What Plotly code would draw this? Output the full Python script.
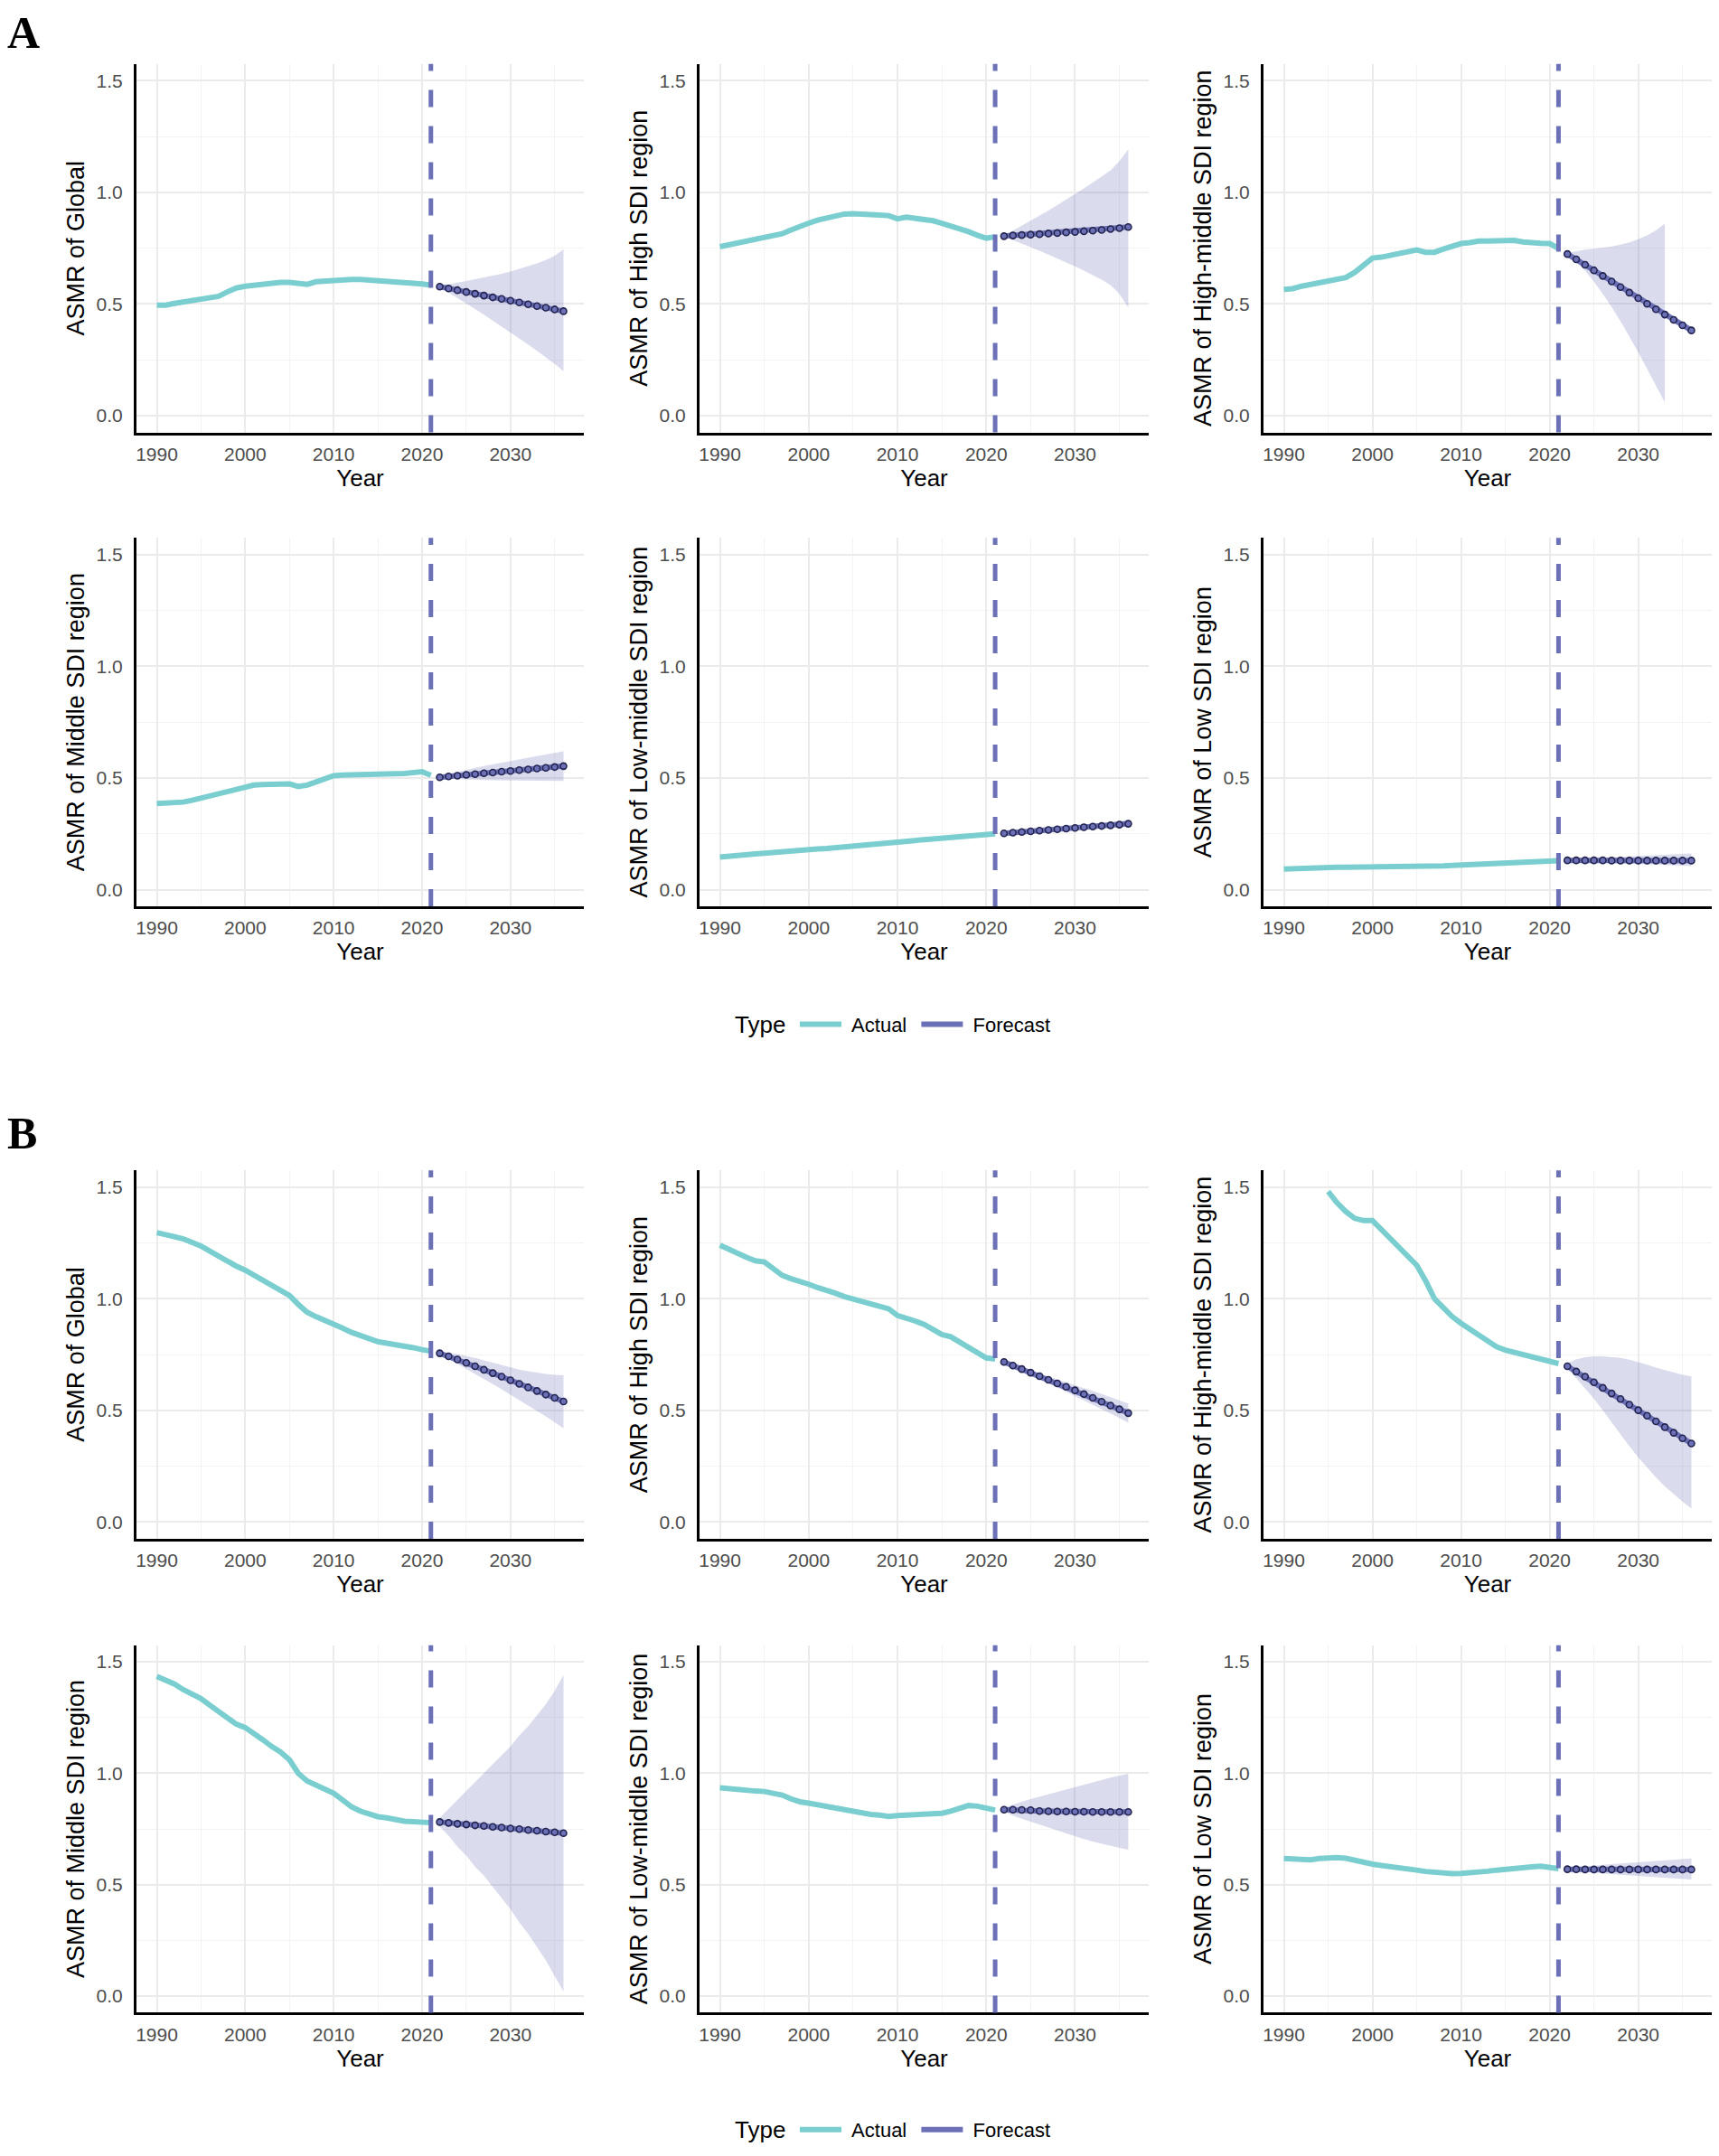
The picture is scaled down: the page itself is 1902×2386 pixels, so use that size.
import plotly.graph_objects as go

# years
actual_years = list(range(1990, 2022))
forecast_years = list(range(2022, 2037))
forecast_start = 2021

x_tick_vals = [1990, 2000, 2010, 2020, 2030]
x_tick_labels = ['1990', '2000', '2010', '2020', '2030']
x_minor_vals = [1995, 2005, 2015, 2025, 2035]
y_tick_vals = [0, 0.5, 1.0, 1.5]
y_tick_labels = ['0.0', '0.5', '1.0', '1.5']
y_minor_vals = [0.25, 0.75, 1.25]

region_titles = ['ASMR of Global', 'ASMR of High SDI region', 'ASMR of High-middle SDI region',
                 'ASMR of Middle SDI region', 'ASMR of Low-middle SDI region', 'ASMR of Low SDI region']

# ---------------- Panel A ----------------
a_global = [0.495, 0.495, 0.503, 0.510, 0.515, 0.520, 0.525, 0.535, 0.555, 0.572, 0.580, 0.585,
            0.590, 0.595, 0.597, 0.597, 0.590, 0.588, 0.600, 0.604, 0.604, 0.608, 0.610, 0.610,
            0.608, 0.604, 0.603, 0.600, 0.595, 0.593, 0.590, 0.585]
a_global_fc = [0.578, 0.570, 0.562, 0.554, 0.546, 0.538, 0.530, 0.523, 0.515, 0.507, 0.499, 0.491, 0.484, 0.476, 0.468]
a_global_hi = [0.580, 0.588, 0.594, 0.601, 0.609, 0.617, 0.626, 0.636, 0.646, 0.657, 0.669, 0.682, 0.697, 0.716, 0.745]
a_global_lo = [0.576, 0.552, 0.528, 0.503, 0.478, 0.452, 0.426, 0.400, 0.373, 0.346, 0.319, 0.291, 0.262, 0.232, 0.200]

a_high = [0.757, 0.766, 0.775, 0.784, 0.792, 0.800, 0.808, 0.815, 0.832, 0.849, 0.862, 0.876,
          0.885, 0.895, 0.903, 0.905, 0.905, 0.899, 0.899, 0.896, 0.882, 0.889, 0.885, 0.880,
          0.873, 0.862, 0.851, 0.839, 0.824, 0.808, 0.795, 0.801]
a_high_fc = [0.804, 0.807, 0.809, 0.811, 0.813, 0.816, 0.818, 0.821, 0.823, 0.826, 0.829, 0.832, 0.836, 0.840, 0.845]
a_high_hi = [0.806, 0.828, 0.850, 0.873, 0.896, 0.919, 0.943, 0.967, 0.992, 1.018, 1.044, 1.071, 1.099, 1.140, 1.193]
a_high_lo = [0.802, 0.787, 0.771, 0.755, 0.739, 0.722, 0.705, 0.687, 0.669, 0.650, 0.630, 0.609, 0.585, 0.545, 0.485]

a_hmid = [0.566, 0.569, 0.580, 0.587, 0.593, 0.602, 0.609, 0.619, 0.642, 0.677, 0.706, 0.710,
          0.717, 0.726, 0.734, 0.742, 0.732, 0.732, 0.746, 0.760, 0.771, 0.775, 0.782, 0.782,
          0.782, 0.786, 0.785, 0.778, 0.772, 0.772, 0.771, 0.749]
a_hmid_fc = [0.724, 0.700, 0.676, 0.651, 0.626, 0.601, 0.576, 0.551, 0.526, 0.501, 0.477, 0.453, 0.429, 0.405, 0.382]
a_hmid_hi = [0.730, 0.738, 0.744, 0.748, 0.752, 0.758, 0.766, 0.776, 0.790, 0.807, 0.830, 0.860]
a_hmid_lo = [0.718, 0.688, 0.650, 0.600, 0.545, 0.487, 0.423, 0.355, 0.285, 0.210, 0.135, 0.060]

a_mid = [0.385, 0.387, 0.388, 0.392, 0.400, 0.410, 0.420, 0.430, 0.440, 0.452, 0.463, 0.468,
         0.470, 0.470, 0.472, 0.473, 0.462, 0.468, 0.482, 0.497, 0.510, 0.513, 0.513, 0.514,
         0.515, 0.516, 0.518, 0.519, 0.520, 0.522, 0.528, 0.512]
a_mid_fc = [0.503, 0.507, 0.510, 0.514, 0.517, 0.521, 0.524, 0.528, 0.531, 0.535, 0.538, 0.542, 0.545, 0.549, 0.553]
a_mid_hi = [0.508, 0.518, 0.527, 0.536, 0.545, 0.553, 0.561, 0.569, 0.576, 0.584, 0.591, 0.598, 0.605, 0.612, 0.619]
a_mid_lo = [0.498, 0.496, 0.494, 0.493, 0.492, 0.491, 0.490, 0.490, 0.489, 0.489, 0.488, 0.488, 0.487, 0.487, 0.487]

a_lmid = [0.146, 0.148, 0.152, 0.156, 0.160, 0.163, 0.167, 0.171, 0.174, 0.177, 0.180, 0.182,
          0.184, 0.187, 0.190, 0.193, 0.197, 0.202, 0.206, 0.209, 0.213, 0.216, 0.220, 0.224,
          0.228, 0.232, 0.236, 0.239, 0.242, 0.246, 0.249, 0.250]
a_lmid_fc = [0.252, 0.255, 0.258, 0.261, 0.264, 0.267, 0.270, 0.273, 0.276, 0.279, 0.282, 0.285, 0.288, 0.291, 0.295]
a_lmid_hi = [0.254, 0.258, 0.262, 0.266, 0.270, 0.274, 0.278, 0.282, 0.286, 0.290, 0.294, 0.298, 0.302, 0.306, 0.310]
a_lmid_lo = [0.250, 0.252, 0.254, 0.256, 0.258, 0.260, 0.262, 0.264, 0.266, 0.268, 0.270, 0.272, 0.274, 0.276, 0.280]

a_low = [0.092, 0.094, 0.096, 0.097, 0.098, 0.099, 0.100, 0.100, 0.100, 0.100, 0.100, 0.101,
         0.101, 0.102, 0.102, 0.103, 0.104, 0.105, 0.106, 0.108, 0.110, 0.111, 0.113, 0.115,
         0.118, 0.120, 0.122, 0.124, 0.125, 0.126, 0.128, 0.130]
a_low_fc = [0.131, 0.131, 0.131, 0.131, 0.131, 0.130, 0.130, 0.130, 0.130, 0.130, 0.130, 0.130, 0.130, 0.130, 0.130]
a_low_hi = [0.134, 0.137, 0.139, 0.141, 0.143, 0.145, 0.147, 0.149, 0.150, 0.152, 0.154, 0.156, 0.158, 0.160, 0.162]
a_low_lo = [0.128, 0.126, 0.124, 0.122, 0.121, 0.119, 0.117, 0.116, 0.114, 0.113, 0.111, 0.110, 0.108, 0.107, 0.105]

# ---------------- Panel B ----------------
b_global = [1.296, 1.289, 1.278, 1.268, 1.253, 1.236, 1.213, 1.190, 1.165, 1.146, 1.128, 1.105,
            1.083, 1.063, 1.041, 1.015, 0.975, 0.940, 0.920, 0.904, 0.890, 0.869, 0.850, 0.835,
            0.822, 0.808, 0.801, 0.796, 0.789, 0.781, 0.772, 0.765]
b_global_fc = [0.756, 0.742, 0.728, 0.713, 0.698, 0.682, 0.667, 0.651, 0.635, 0.619, 0.603, 0.587, 0.571, 0.556, 0.540]
b_global_hi = [0.758, 0.757, 0.752, 0.745, 0.735, 0.724, 0.713, 0.702, 0.692, 0.683, 0.675, 0.668, 0.663, 0.659, 0.657]
b_global_lo = [0.753, 0.731, 0.709, 0.687, 0.664, 0.641, 0.618, 0.595, 0.571, 0.547, 0.523, 0.498, 0.473, 0.447, 0.420]

b_high = [1.240, 1.220, 1.200, 1.185, 1.170, 1.165, 1.135, 1.105, 1.090, 1.080, 1.065, 1.050,
          1.040, 1.025, 1.010, 1.000, 0.990, 0.980, 0.970, 0.955, 0.925, 0.915, 0.900, 0.885,
          0.865, 0.840, 0.830, 0.805, 0.780, 0.755, 0.735, 0.730]
b_high_fc = [0.717, 0.701, 0.685, 0.669, 0.653, 0.637, 0.621, 0.606, 0.590, 0.573, 0.556, 0.539, 0.522, 0.505, 0.488]
b_high_hi = [0.719, 0.705, 0.691, 0.678, 0.665, 0.652, 0.639, 0.627, 0.614, 0.600, 0.587, 0.573, 0.559, 0.545, 0.531]
b_high_lo = [0.715, 0.697, 0.679, 0.660, 0.641, 0.622, 0.603, 0.584, 0.565, 0.546, 0.526, 0.506, 0.486, 0.466, 0.445]

b_hmid = [None, None, None, None, None, 1.480, 1.430, 1.390, 1.360, 1.350, 1.350, 1.310,
          1.270, 1.230, 1.190, 1.150, 1.080, 1.000, 0.960, 0.920, 0.890, 0.865, 0.840, 0.810,
          0.785, 0.770, 0.760, 0.750, 0.740, 0.730, 0.720, 0.710]
b_hmid_fc = [0.698, 0.674, 0.651, 0.626, 0.601, 0.576, 0.551, 0.526, 0.501, 0.476, 0.451, 0.425, 0.400, 0.375, 0.352]
b_hmid_hi = [0.712, 0.728, 0.738, 0.742, 0.742, 0.740, 0.735, 0.727, 0.717, 0.705, 0.692, 0.680, 0.669, 0.659, 0.652]
b_hmid_lo = [0.690, 0.645, 0.600, 0.552, 0.500, 0.445, 0.390, 0.340, 0.290, 0.245, 0.200, 0.160, 0.125, 0.092, 0.060]

b_mid = [1.435, 1.420, 1.400, 1.375, 1.355, 1.335, 1.305, 1.275, 1.245, 1.220, 1.205, 1.180,
         1.150, 1.120, 1.095, 1.060, 1.000, 0.965, 0.945, 0.925, 0.910, 0.880, 0.850, 0.830,
         0.815, 0.805, 0.800, 0.790, 0.785, 0.783, 0.780, 0.778]
b_mid_fc = [0.781, 0.777, 0.773, 0.770, 0.766, 0.763, 0.759, 0.756, 0.752, 0.749, 0.745, 0.742, 0.738, 0.735, 0.731]
b_mid_hi = [0.800, 0.840, 0.880, 0.920, 0.960, 1.000, 1.040, 1.080, 1.120, 1.170, 1.210, 1.260, 1.310, 1.370, 1.440]
b_mid_lo = [0.760, 0.720, 0.670, 0.630, 0.580, 0.540, 0.490, 0.440, 0.390, 0.330, 0.280, 0.220, 0.160, 0.090, 0.020]

b_lmid = [0.935, 0.930, 0.925, 0.922, 0.920, 0.918, 0.912, 0.902, 0.885, 0.872, 0.866, 0.858,
          0.850, 0.842, 0.835, 0.828, 0.820, 0.815, 0.812, 0.806, 0.810, 0.812, 0.810, 0.812,
          0.815, 0.820, 0.830, 0.845, 0.855, 0.852, 0.842, 0.835]
b_lmid_fc = [0.836, 0.836, 0.835, 0.834, 0.830, 0.829, 0.828, 0.828, 0.827, 0.827, 0.826, 0.826, 0.826, 0.826, 0.826]
b_lmid_hi = [0.845, 0.860, 0.872, 0.884, 0.895, 0.906, 0.917, 0.928, 0.939, 0.950, 0.960, 0.970, 0.980, 0.989, 0.998]
b_lmid_lo = [0.828, 0.810, 0.796, 0.783, 0.768, 0.754, 0.741, 0.728, 0.716, 0.704, 0.693, 0.683, 0.673, 0.665, 0.657]

b_low = [0.617, 0.613, 0.610, 0.611, 0.617, 0.622, 0.621, 0.618, 0.608, 0.598, 0.592, 0.586,
         0.582, 0.578, 0.572, 0.565, 0.559, 0.554, 0.551, 0.549, 0.550, 0.552, 0.555, 0.560,
         0.565, 0.570, 0.574, 0.578, 0.580, 0.583, 0.577, 0.572]
b_low_fc = [0.569, 0.569, 0.568, 0.568, 0.568, 0.568, 0.568, 0.568, 0.568, 0.568, 0.568, 0.568, 0.568, 0.568, 0.568]
b_low_hi = [0.572, 0.577, 0.581, 0.585, 0.589, 0.592, 0.595, 0.598, 0.601, 0.604, 0.607, 0.609, 0.612, 0.614, 0.617]
b_low_lo = [0.566, 0.561, 0.557, 0.553, 0.550, 0.547, 0.544, 0.541, 0.538, 0.535, 0.532, 0.530, 0.527, 0.525, 0.523]

panels = [
    (a_global, a_global_fc, a_global_hi, a_global_lo),
    (a_high, a_high_fc, a_high_hi, a_high_lo),
    (a_hmid, a_hmid_fc, a_hmid_hi, a_hmid_lo),
    (a_mid, a_mid_fc, a_mid_hi, a_mid_lo),
    (a_lmid, a_lmid_fc, a_lmid_hi, a_lmid_lo),
    (a_low, a_low_fc, a_low_hi, a_low_lo),
    (b_global, b_global_fc, b_global_hi, b_global_lo),
    (b_high, b_high_fc, b_high_hi, b_high_lo),
    (b_hmid, b_hmid_fc, b_hmid_hi, b_hmid_lo),
    (b_mid, b_mid_fc, b_mid_hi, b_mid_lo),
    (b_lmid, b_lmid_fc, b_lmid_hi, b_lmid_lo),
    (b_low, b_low_fc, b_low_hi, b_low_lo),
]

# page has an 8px body margin, so the figure is shrunk and positions shifted
PAGE_MARGIN = 8
W, H = 1902 - 2 * PAGE_MARGIN, 2386 - 2 * PAGE_MARGIN


def px_x(p):
    return (p - PAGE_MARGIN) / W


def px_y(p):
    return 1 - (p - PAGE_MARGIN) / H


col_px = [(151, 646), (774, 1271), (1398, 1894)]
row_px = [(71, 480), (597, 1006), (1299, 1708), (1826, 2234)]

actual_color = '#7ACECF'
forecast_color = '#6B70B7'
ribbon_color = 'rgba(107,112,183,0.25)'
marker_edge = '#23244F'

fig = go.Figure()
layout_axes = {}
shapes = []

for i, (act, fc, hi, lo) in enumerate(panels):
    row, col = i // 3, i % 3
    n = '' if i == 0 else str(i + 1)
    xr, yr = 'x' + n, 'y' + n
    legend_name = 'legend' if i < 6 else 'legend2'
    first = (i % 6 == 0)
    ci_x = forecast_years[:len(hi)]

    # 95% band
    fig.add_trace(go.Scatter(x=ci_x, y=hi, mode='lines', line=dict(width=0, color=ribbon_color),
                             xaxis=xr, yaxis=yr, showlegend=False, hoverinfo='skip'))
    fig.add_trace(go.Scatter(x=ci_x, y=lo, mode='lines', line=dict(width=0, color=ribbon_color),
                             fill='tonexty', fillcolor=ribbon_color,
                             xaxis=xr, yaxis=yr, showlegend=False, hoverinfo='skip'))
    fig.add_trace(go.Scatter(x=actual_years, y=act, mode='lines', name='\u00a0Actual\u00a0',
                             line=dict(color=actual_color, width=6),
                             xaxis=xr, yaxis=yr, showlegend=first, legend=legend_name))
    fig.add_trace(go.Scatter(x=forecast_years, y=fc, mode='lines', name='\u00a0Forecast',
                             line=dict(color=forecast_color, width=6),
                             xaxis=xr, yaxis=yr, showlegend=first, legend=legend_name))
    fig.add_trace(go.Scatter(x=forecast_years, y=fc, mode='markers',
                             marker=dict(symbol='circle', size=7, color=forecast_color,
                                         line=dict(color=marker_edge, width=1.6)),
                             xaxis=xr, yaxis=yr, showlegend=False))

    shapes.append(dict(type='line', xref=xr, yref=yr + ' domain', x0=forecast_start, x1=forecast_start,
                       y0=0, y1=1, line=dict(color=forecast_color, width=5, dash='19px,21px')))

    x0, x1 = col_px[col]
    y0, y1 = row_px[row]
    layout_axes['xaxis' + n] = dict(
        domain=[px_x(x0), px_x(x1)], anchor=yr, range=[1987.7, 2038.3],
        tickmode='array', tickvals=x_tick_vals, ticktext=x_tick_labels, ticks='',
        showgrid=True, gridcolor='#EBEBEB', gridwidth=2,
        minor=dict(tickmode='array', tickvals=x_minor_vals, showgrid=True, gridcolor='#F3F3F3', gridwidth=1),
        showline=True, linecolor='black', linewidth=3, zeroline=False,
        tickfont=dict(size=21, color='#4D4D4D'), ticklabelstandoff=3,
        title=dict(text='Year', font=dict(size=26, color='black'), standoff=6),
    )
    layout_axes['yaxis' + n] = dict(
        domain=[px_y(y1), px_y(y0)], anchor=xr, range=[-0.075, 1.575],
        tickmode='array', tickvals=y_tick_vals, ticktext=y_tick_labels, ticks='',
        showgrid=True, gridcolor='#EBEBEB', gridwidth=2,
        minor=dict(tickmode='array', tickvals=y_minor_vals, showgrid=True, gridcolor='#F3F3F3', gridwidth=1),
        showline=True, linecolor='black', linewidth=3, zeroline=False,
        tickfont=dict(size=21, color='#4D4D4D'), ticklabelstandoff=8,
        title=dict(text=region_titles[i % 6], font=dict(size=27, color='black'), standoff=6),
    )

legend_style = dict(orientation='h', x=px_x(880), xanchor='left', yanchor='middle', traceorder='normal',
                    font=dict(size=22, color='black'), itemwidth=46, bgcolor='rgba(0,0,0,0)')

label_font = dict(family='Liberation Serif', size=50, color='black')
type_font = dict(size=26, color='black')

fig.update_layout(
    width=W, height=H,
    margin=dict(l=0, r=0, t=0, b=0),
    plot_bgcolor='white', paper_bgcolor='white',
    font=dict(family='Liberation Sans, Arial, sans-serif'),
    shapes=shapes,
    legend=dict(y=px_y(1137), **legend_style),
    legend2=dict(y=px_y(2364), **legend_style),
    annotations=[
        dict(text='<b>A</b>', x=px_x(6), y=px_y(36), xref='paper', yref='paper', xanchor='left',
             yanchor='middle', showarrow=False, font=label_font),
        dict(text='<b>B</b>', x=px_x(6), y=px_y(1258), xref='paper', yref='paper', xanchor='left',
             yanchor='middle', showarrow=False, font=label_font),
        dict(text='Type', x=px_x(811), y=px_y(1137), xref='paper', yref='paper', xanchor='left',
             yanchor='middle', showarrow=False, font=type_font),
        dict(text='Type', x=px_x(811), y=px_y(2364), xref='paper', yref='paper', xanchor='left',
             yanchor='middle', showarrow=False, font=type_font),
    ],
    **layout_axes
)

fig.write_html("out.html")
